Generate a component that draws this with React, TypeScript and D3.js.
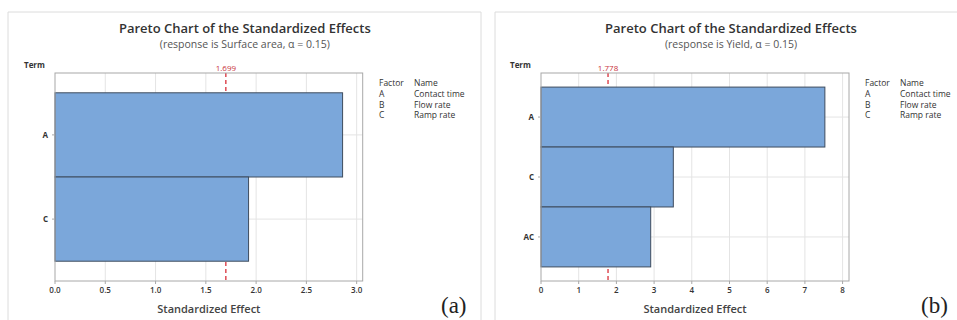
import * as d3 from "d3"
import React, { useEffect, useRef } from "react"

const titleText = "Pareto Chart of the Standardized Effects"

const termsA = ["A", "C"]
const effectsA = [2.86, 1.925]
const refA = 1.699
const ticksA = [0, 0.5, 1, 1.5, 2, 2.5, 3]

const termsB = ["A", "C", "AC"]
const effectsB = [7.53, 3.51, 2.91]
const refB = 1.778
const ticksB = [0, 1, 2, 3, 4, 5, 6, 7, 8]

const factorCodes = ["A", "B", "C"]
const factorNames = ["Contact time", "Flow rate", "Ramp rate"]

const panels = [
  {
    id: "a",
    subtitle: "(response is Surface area, α = 0.15)",
    terms: termsA,
    effects: effectsA,
    ref: refA,
    refLabel: "1.699",
    ticks: ticksA,
    tickFmt: d3.format(".1f"),
    xMax: 3.06,
    frame: [8, 481],
    plot: { left: 55, right: 362.7, top: 73, bottom: 281 },
    legendX: 379,
    tag: "(a)",
    tagX: 441,
  },
  {
    id: "b",
    subtitle: "(response is Yield, α = 0.15)",
    terms: termsB,
    effects: effectsB,
    ref: refB,
    refLabel: "1.778",
    ticks: ticksB,
    tickFmt: d3.format("d"),
    xMax: 8.17,
    frame: [495, 970],
    plot: { left: 541, right: 849, top: 73, bottom: 281 },
    legendX: 865,
    tag: "(b)",
    tagX: 921,
  },
]

const font = "'Open Sans', 'Noto Sans', sans-serif"

const App = () => {
  const ref = useRef(null)

  useEffect(() => {
    const svg = d3.select(ref.current)
    svg.selectAll("*").remove()

    panels.forEach((p) => {
      const g = svg.append("g")
      const { left, right, top, bottom } = p.plot
      const cx = (left + right) / 2

      // outer frame (no bottom edge)
      g.append("path")
        .attr("d", `M${p.frame[0]},320 V12 H${p.frame[1]} V320`)
        .attr("fill", "none")
        .attr("stroke", "#dcdcdc")
        .attr("stroke-width", 1)

      g.append("text")
        .attr("x", cx + 36)
        .attr("y", 33)
        .attr("text-anchor", "middle")
        .attr("font-family", font)
        .attr("font-size", 13)
        .attr("font-weight", 600)
        .attr("fill", "#333")
        .text(titleText)

      g.append("text")
        .attr("x", cx + 36)
        .attr("y", 48)
        .attr("text-anchor", "middle")
        .attr("font-family", font)
        .attr("font-size", 10.5)
        .attr("fill", "#555")
        .text(p.subtitle)

      var x = d3.scaleLinear().domain([0, p.xMax]).range([left, right])
      var y = d3
        .scaleBand()
        .domain(p.terms)
        .range([top, bottom])
        .paddingInner(0)
        .paddingOuter(0.235)

      // gridlines
      g.append("g")
        .selectAll("line")
        .data(p.ticks.filter((t) => t > 0))
        .join("line")
        .attr("x1", (d) => x(d))
        .attr("x2", (d) => x(d))
        .attr("y1", top)
        .attr("y2", bottom)
        .attr("stroke", "#e4e4e4")
      g.append("g")
        .selectAll("line")
        .data(p.terms)
        .join("line")
        .attr("x1", left)
        .attr("x2", right)
        .attr("y1", (d) => y(d) + y.bandwidth() / 2)
        .attr("y2", (d) => y(d) + y.bandwidth() / 2)
        .attr("stroke", "#e4e4e4")

      // reference line, behind the bars
      g.append("line")
        .attr("x1", x(p.ref))
        .attr("x2", x(p.ref))
        .attr("y1", top)
        .attr("y2", bottom)
        .attr("stroke", "#d9303a")
        .attr("stroke-width", 1.3)
        .attr("stroke-dasharray", "4,3")
      g.append("text")
        .attr("x", x(p.ref))
        .attr("y", 70.5)
        .attr("text-anchor", "middle")
        .attr("font-family", font)
        .attr("font-size", 8)
        .attr("fill", "#c8323a")
        .text(p.refLabel)

      // bars
      g.append("g")
        .selectAll("rect")
        .data(p.terms.map((t, i) => ({ term: t, v: p.effects[i] })))
        .join("rect")
        .attr("x", x(0))
        .attr("y", (d) => y(d.term))
        .attr("width", (d) => x(d.v) - x(0))
        .attr("height", y.bandwidth())
        .attr("fill", "#7ba7da")
        .attr("stroke", "#3e4c5e")
        .attr("stroke-width", 1)

      // plot border
      g.append("rect")
        .attr("x", left)
        .attr("y", top)
        .attr("width", right - left)
        .attr("height", bottom - top)
        .attr("fill", "none")
        .attr("stroke", "#a8a8a8")

      // x axis
      const xa = g.append("g")
      xa.selectAll("line")
        .data(p.ticks)
        .join("line")
        .attr("x1", (d) => x(d))
        .attr("x2", (d) => x(d))
        .attr("y1", bottom)
        .attr("y2", bottom + 3)
        .attr("stroke", "#a8a8a8")
      xa.selectAll("text")
        .data(p.ticks)
        .join("text")
        .attr("x", (d) => x(d))
        .attr("y", bottom + 12)
        .attr("text-anchor", "middle")
        .attr("font-family", font)
        .attr("font-size", 8)
        .attr("font-weight", 600)
        .attr("fill", "#333")
        .text((d) => p.tickFmt(d))

      // y axis
      const ya = g.append("g")
      ya.selectAll("line")
        .data(p.terms)
        .join("line")
        .attr("x1", left - 3)
        .attr("x2", left)
        .attr("y1", (d) => y(d) + y.bandwidth() / 2)
        .attr("y2", (d) => y(d) + y.bandwidth() / 2)
        .attr("stroke", "#a8a8a8")
      ya.selectAll("text")
        .data(p.terms)
        .join("text")
        .attr("x", left - 7)
        .attr("y", (d) => y(d) + y.bandwidth() / 2 + 3)
        .attr("text-anchor", "end")
        .attr("font-family", font)
        .attr("font-size", 8)
        .attr("font-weight", 700)
        .attr("fill", "#333")
        .text((d) => d)

      g.append("text")
        .attr("x", left - 31)
        .attr("y", 68)
        .attr("font-family", font)
        .attr("font-size", 8)
        .attr("font-weight", 700)
        .attr("fill", "#333")
        .text("Term")

      g.append("text")
        .attr("x", cx)
        .attr("y", 313)
        .attr("text-anchor", "middle")
        .attr("font-family", font)
        .attr("font-size", 11)
        .attr("font-weight", 600)
        .attr("fill", "#444")
        .text("Standardized Effect")

      // legend
      const lg = g.append("g").attr("font-family", font).attr("font-size", 8.5).attr("fill", "#333")
      lg.append("text").attr("x", p.legendX).attr("y", 86).text("Factor")
      lg.append("text").attr("x", p.legendX + 35).attr("y", 86).text("Name")
      factorCodes.forEach((c, i) => {
        lg.append("text").attr("x", p.legendX).attr("y", 96.8 + i * 10.8).text(c)
        lg.append("text").attr("x", p.legendX + 35).attr("y", 96.8 + i * 10.8).text(factorNames[i])
      })

      g.append("text")
        .attr("x", p.tagX)
        .attr("y", 313)
        .attr("font-family", "'Liberation Serif', serif")
        .attr("font-size", 23)
        .attr("fill", "#222")
        .text(p.tag)
    })
  }, [])

  return (
    <svg
      ref={ref}
      width={957}
      height={320}
      viewBox="0 0 957 320"
      style={{ position: "absolute", left: 0, top: 0, background: "#fff" }}
    />
  )
}

export default App
